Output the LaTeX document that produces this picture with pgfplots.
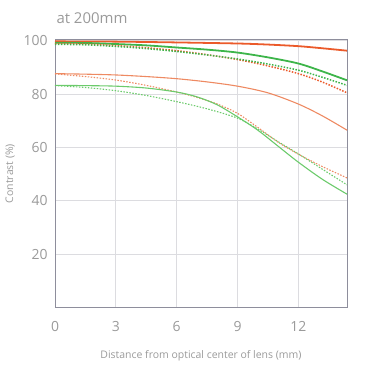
\documentclass[border=0pt]{standalone}
\usepackage{pgfplots}
\pgfplotsset{compat=1.18}
\usepackage{fontspec}
\setmainfont{Open Sans}
\definecolor{txt}{HTML}{9A9A9A}
\definecolor{frame}{HTML}{8E8E9C}
\definecolor{gridc}{HTML}{DCDCE0}
\definecolor{orA}{HTML}{EB5A2A}
\definecolor{orB}{HTML}{EE8A62}
\definecolor{grA}{HTML}{3DB54A}
\definecolor{grB}{HTML}{6CCB6C}
\begin{document}
\begin{tikzpicture}
\useasboundingbox (0,0) rectangle (383bp,372bp);
\begin{axis}[
  at={(55bp,64.5bp)}, anchor=south west,
  scale only axis, width=292bp, height=268bp,
  xmin=0, xmax=14.4, ymin=0, ymax=100.5,
  xtick={0,3,6,9,12}, ytick={20,40,60,80,100},
  grid=major, major grid style={gridc, line width=0.8pt},
  axis line style={frame, line width=1pt},
  tick style={draw=none},
  tick label style={font=\fontsize{14}{16}\selectfont, text=txt},
  /pgf/number format/assume math mode=true,
  xticklabel style={yshift=-10bp},
  yticklabel style={xshift=-4bp},
  xlabel={Distance from optical center of lens (mm)},
  ylabel={Contrast (\%)},
  label style={font=\fontsize{10.5}{12}\selectfont, text=txt},
  xlabel style={yshift=-12bp},
  ylabel style={yshift=2bp},
  clip=false,
]
% top curves
\addplot[orA, line width=1.8pt, smooth] coordinates {(0,99.8)(3,99.7)(6,99.4)(9,99)(10.5,98.6)(12,98)(13.2,97.2)(14.4,96.3)};
\addplot[grA, line width=1.8pt, smooth] coordinates {(0,99.3)(1.5,99.2)(3,98.8)(4.5,98.3)(6,97.5)(7.5,96.7)(9,95.6)(10.5,93.8)(12,91.5)(13.2,88.5)(14.4,85.2)};
\addplot[orA, line width=1.5pt, dash pattern=on 1.5pt off 1.5pt, smooth] coordinates {(0,99)(1.5,98.8)(3,98.2)(4.5,97.4)(6,96.3)(7.5,94.8)(9,93)(10.5,90.6)(12,87.7)(13.2,84.5)(14.4,80.5)};
\addplot[grA, line width=1.5pt, dash pattern=on 1.5pt off 1.5pt, smooth] coordinates {(0,98.7)(1.5,98.5)(3,97.9)(4.5,97.1)(6,96)(7.5,94.7)(9,93.2)(10.5,91.3)(12,89)(13.2,86.3)(14.4,83.3)};
% middle curves
\addplot[orB, line width=1.1pt, smooth] coordinates {(0,87.7)(1.5,87.5)(3,87.2)(4.5,86.6)(6,85.8)(7.5,84.6)(9,83)(10.5,80.5)(12,76.3)(13.2,71.8)(14.4,66.5)};
\addplot[orB, line width=1.1pt, dash pattern=on 1.5pt off 1.5pt, smooth] coordinates {(0,87.6)(1.5,86.6)(3,85.3)(4.5,83.3)(6,80.8)(7,78.8)(8,76.3)(9,72.8)(10.1,67)(11,62)(12,57.5)(13.2,52.8)(14.4,48.6)};
\addplot[grB, line width=1.1pt, smooth] coordinates {(0,83.3)(1.5,83.2)(3,83)(4.5,82.3)(6,80.8)(7,79)(8,76)(9,71.5)(10,66.5)(11,60.5)(12,54.5)(13.2,48)(14.4,42.5)};
\addplot[grB, line width=1.1pt, dash pattern=on 1.5pt off 1.5pt, smooth] coordinates {(0,83.2)(1.5,82.5)(3,81.3)(4.5,79.5)(6,77.2)(7.5,74.5)(9,71)(10.1,66.5)(11,62.2)(12,57.6)(13.2,51.8)(14.4,46)};
\end{axis}
\node[anchor=west, text=txt, font=\fontsize{15}{17}\selectfont] at (53bp,354bp) {at 200mm};
\end{tikzpicture}
\end{document}
